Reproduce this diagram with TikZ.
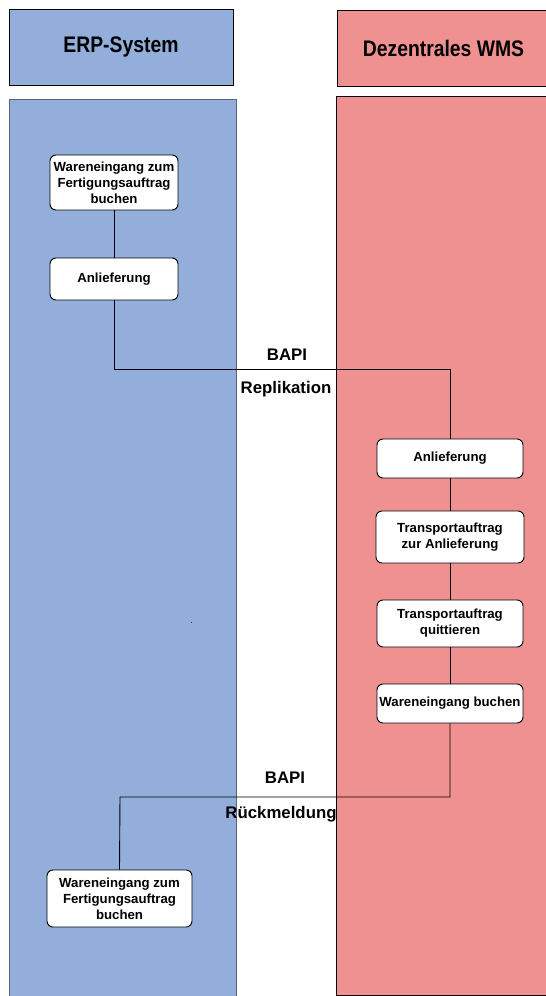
\documentclass[tikz,border=0pt]{standalone}
\usepackage{fontspec}
\setmainfont{Liberation Sans}
\newfontfamily\hdrfont[FakeStretch=0.86]{Liberation Sans}
\definecolor{erpblue}{RGB}{148,174,220}
\definecolor{wmsred}{RGB}{240,145,145}
\definecolor{laneline}{RGB}{90,100,120}
\tikzset{
  lane/.style={line width=1pt},
  header/.style={draw=black,line width=1pt,font=\hdrfont\bfseries\fontsize{22.5}{26}\selectfont},
  stepbox/.style={draw=black,fill=white,rounded corners=6pt,line width=0.9pt,align=center,
    font=\bfseries\fontsize{13.2}{16}\selectfont,inner sep=1pt},
  conn/.style={draw=black,line width=0.9pt},
  lbl/.style={font=\bfseries\fontsize{16.8}{20}\selectfont,inner sep=0pt}
}
\begin{document}
\begin{tikzpicture}[x=1pt,y=-1pt]
\useasboundingbox (0,0) rectangle (546,996);
% lanes
\filldraw[lane,fill=erpblue,draw=laneline] (9.5,99.5) rectangle (236,997);
\filldraw[lane,fill=wmsred,draw=black] (336.5,96.5) rectangle (547,995.5);
% headers
\node[header,fill=erpblue,minimum width=224pt,minimum height=76pt] (hE) at (121,47) {ERP-System};
\node[header,fill=wmsred,minimum width=212pt,minimum height=76pt,anchor=west] (hW) at (337,48) {Dezentrales WMS};
% dot
\fill[black!80] (190.5,621.5) rectangle (192,623);
% nodes
\node[stepbox,minimum width=128pt,minimum height=55pt] (e1) at (114,182.5) {Wareneingang zum\\Fertigungsauftrag\\buchen};
\node[stepbox,minimum width=128pt,minimum height=42pt] (e2) at (114,279) {Anlieferung};
\node[stepbox,minimum width=146pt,minimum height=39pt] (w1) at (450,458.5) {Anlieferung};
\node[stepbox,minimum width=148pt,minimum height=52pt] (w2) at (450,537) {Transportauftrag\\zur Anlieferung};
\node[stepbox,minimum width=146pt,minimum height=47pt] (w3) at (450,623.5) {Transportauftrag\\quittieren};
\node[stepbox,minimum width=146pt,minimum height=39pt] (w4) at (450,703.5) {Wareneingang buchen};
\node[stepbox,minimum width=145pt,minimum height=57pt] (e3) at (119.5,898.5) {Wareneingang zum\\Fertigungsauftrag\\buchen};
% connector corners
\coordinate (c1) at (114,369);
\coordinate (c2) at (450,369);
\coordinate (c3) at (450,797);
\coordinate (c4) at (120,797);
\draw[conn] (e1.south) -- (e2.north);
\draw[conn] (e2.south) -- (c1) -- (c2) -- (w1.north);
\draw[conn] (w1.south) -- (w2.north);
\draw[conn] (w2.south) -- (w3.north);
\draw[conn] (w3.south) -- (w4.north);
\draw[conn] (w4.south) -- (c3) -- (c4) -- (e3.north);
% labels
\node[lbl] (b1) at (287,355) {BAPI};
\node[lbl] (r1) at (286,389) {Replikation};
\node[lbl] (b2) at (285,778) {BAPI};
\node[lbl] (r2) at (281,814) {Rückmeldung};
\end{tikzpicture}
\end{document}
